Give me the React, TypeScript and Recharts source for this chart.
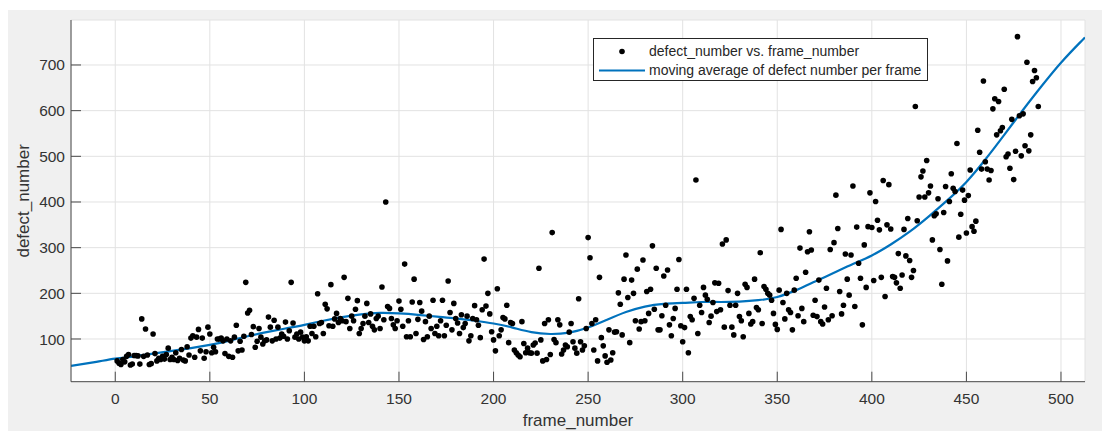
import {
  CartesianGrid,
  ComposedChart,
  Label,
  Legend,
  Line,
  Scatter,
  XAxis,
  YAxis,
} from "recharts";

// defects counted per frame, frames 1..488
const defectCounts = [
  // 1-50
  52, 47, 44, 55, 50, 62, 66, 43, 45, 64,
  64, 63, 45, 144, 62, 122, 65, 44, 46, 111,
  68, 52, 58, 55, 62, 56, 66, 80, 55, 60,
  55, 70, 53, 58, 77, 54, 52, 83, 65, 102,
  107, 60, 104, 121, 74, 102, 58, 72, 126, 111,
  // 51-100
  70, 82, 72, 100, 100, 102, 96, 68, 100, 62,
  96, 60, 104, 130, 74, 95, 76, 106, 224, 157,
  163, 110, 127, 82, 95, 123, 104, 89, 96, 98,
  148, 126, 96, 141, 100, 126, 102, 111, 106, 137,
  100, 118, 224, 135, 104, 111, 100, 115, 104, 96,
  // 101-150
  105, 96, 128, 112, 128, 105, 199, 134, 136, 112,
  176, 166, 129, 219, 128, 144, 156, 136, 145, 140,
  235, 138, 189, 123, 150, 140, 165, 184, 112, 123,
  134, 150, 178, 136, 155, 128, 120, 145, 150, 123,
  214, 142, 400, 171, 167, 145, 131, 123, 140, 183,
  // 151-200
  165, 128, 264, 105, 140, 105, 181, 231, 112, 143,
  180, 161, 99, 138, 105, 150, 123, 185, 112, 128,
  107, 140, 185, 107, 130, 227, 158, 120, 178, 145,
  135, 112, 153, 125, 134, 150, 96, 107, 145, 173,
  142, 130, 103, 164, 275, 172, 200, 155, 116, 98,
  // 201-250
  74, 210, 107, 120, 147, 144, 174, 92, 136, 134,
  76, 70, 65, 61, 138, 90, 70, 80, 70, 69,
  87, 91, 69, 255, 98, 52, 134, 55, 142, 66,
  333, 99, 92, 142, 131, 67, 76, 87, 83, 115,
  134, 94, 80, 69, 188, 94, 76, 85, 123, 322,
  // 251-300
  278, 134, 76, 142, 52, 235, 103, 85, 63, 49,
  120, 54, 70, 115, 116, 201, 176, 109, 231, 284,
  191, 92, 229, 200, 140, 253, 122, 138, 273, 140,
  204, 156, 209, 304, 165, 255, 120, 120, 151, 238,
  174, 251, 131, 107, 145, 167, 209, 274, 129, 94,
  // 301-350
  125, 209, 70, 149, 142, 189, 448, 112, 174, 158,
  213, 196, 187, 136, 150, 180, 223, 160, 222, 164,
  308, 126, 317, 206, 174, 126, 109, 174, 200, 149,
  140, 105, 220, 213, 156, 133, 138, 231, 169, 164,
  289, 134, 215, 209, 200, 196, 185, 156, 132, 121,
  // 351-400
  207, 340, 180, 144, 200, 164, 158, 120, 207, 233,
  151, 299, 167, 138, 246, 291, 335, 295, 152, 185,
  149, 229, 138, 133, 170, 211, 142, 296, 151, 311,
  415, 342, 204, 155, 174, 286, 231, 196, 284, 435,
  171, 345, 266, 233, 131, 306, 213, 346, 420, 344,
  // 401-450
  228, 401, 360, 339, 235, 447, 193, 350, 438, 341,
  237, 235, 223, 287, 211, 240, 340, 282, 364, 272,
  235, 250, 609, 359, 411, 455, 468, 411, 491, 420,
  435, 317, 370, 374, 407, 296, 220, 377, 434, 271,
  401, 462, 430, 423, 528, 323, 373, 426, 404, 332,
  // 451-488
  414, 470, 346, 336, 358, 557, 509, 472, 665, 488,
  472, 448, 469, 604, 626, 547, 620, 556, 563, 647,
  499, 505, 474, 581, 449, 511, 762, 589, 501, 593,
  523, 706, 512, 547, 664, 688, 672, 609,
];

// moving average curve, sampled off the blue line
const avgFrames = [
  -23.4, -10, 0, 10, 20, 30, 40, 50, 60, 70, 80, 90, 100, 110, 120, 130, 140,
  150, 160, 170, 180, 190, 200, 210, 220, 230, 240, 250, 260, 270, 280, 290,
  300, 310, 320, 330, 340, 350, 360, 370, 380, 390, 400, 410, 420, 430, 440,
  450, 460, 470, 480, 490, 500, 510, 512.7,
];
const avgValues = [
  41, 50, 57, 62, 68, 74, 80, 87, 96, 106, 115, 123, 131, 140, 148, 154, 157,
  156, 153, 149, 145, 140, 134, 125, 115, 111, 114, 125, 142, 159, 171, 177,
  179, 181, 181, 182, 185, 192, 207, 226, 245, 264, 283, 307, 335, 368, 404,
  444, 493, 547, 602, 655, 705, 749, 760,
];

const xTicks = [0, 50, 100, 150, 200, 250, 300, 350, 400, 450, 500];
const yTicks = [100, 200, 300, 400, 500, 600, 700];

const points = defectCounts.map((v, i) => ({ frame: i + 1, defects: v }));
const avgLine = avgFrames.map((f, i) => ({ frame: f, avg: avgValues[i] }));

const FONT = '"Liberation Sans", Arial, Helvetica, sans-serif';
const AXIS = "#4a4a4a";
const TEXT = "#333333";
const BLUE = "#0072BD";

const Dot = (props: any) => <circle cx={props.cx} cy={props.cy} r={2.8} fill="#000" />;

function MatlabLegend() {
  const row = { display: "flex", alignItems: "center", height: 19 } as const;
  return (
    <div
      style={{
        background: "#fff",
        border: "1px solid #262626",
        padding: "3px 6px 0 0",
        fontFamily: FONT,
        fontSize: 14,
        color: "#262626",
        whiteSpace: "nowrap",
        lineHeight: "19px",
      }}
    >
      <div style={row}>
        <svg width={55} height={19}>
          <circle cx={28} cy={9.5} r={2.8} fill="#000" />
        </svg>
        <span>defect_number vs. frame_number</span>
      </div>
      <div style={row}>
        <svg width={55} height={19}>
          <line x1={5} x2={51} y1={9.5} y2={9.5} stroke={BLUE} strokeWidth={2} />
        </svg>
        <span>moving average of defect number per frame</span>
      </div>
    </div>
  );
}

export default function App() {
  return (
    <div style={{ paddingTop: 2 }}>
      <div style={{ width: 1102, height: 421, background: "#f0f0f0" }}>
        <ComposedChart
          width={1102}
          height={421}
          margin={{ top: 10, right: 25, bottom: 0, left: 0 }}
        >
          <CartesianGrid fill="#fff" stroke="#e2e2e2" />
          <XAxis
            type="number"
            dataKey="frame"
            domain={[-23.4, 512.7]}
            allowDataOverflow
            ticks={xTicks}
            height={49.3}
            tickSize={-10}
            tickMargin={21.3}
            stroke={AXIS}
            tick={{ fill: TEXT, fontSize: 15.5, fontFamily: FONT }}
          >
            <Label
              value="frame_number"
              position="insideBottom"
              offset={5}
              style={{ fill: TEXT, fontSize: 17, fontFamily: FONT }}
            />
          </XAxis>
          <XAxis
            xAxisId="top"
            orientation="top"
            type="number"
            domain={[-23.4, 512.7]}
            allowDataOverflow
            ticks={xTicks}
            height={0}
            tickSize={-10}
            tick={false}
            stroke={AXIS}
          />
          <YAxis
            type="number"
            domain={[6.5, 798.5]}
            allowDataOverflow
            ticks={yTicks}
            width={63}
            tickSize={-10}
            tickMargin={16}
            stroke={AXIS}
            tick={{ fill: TEXT, fontSize: 15.5, fontFamily: FONT }}
          >
            <Label
              value="defect_number"
              angle={-90}
              position="insideLeft"
              offset={15}
              style={{ textAnchor: "middle", fill: TEXT, fontSize: 17, fontFamily: FONT }}
            />
          </YAxis>
          <YAxis
            yAxisId="right"
            orientation="right"
            type="number"
            domain={[6.5, 798.5]}
            allowDataOverflow
            ticks={yTicks}
            width={0}
            tickSize={-10}
            tick={false}
            stroke={AXIS}
          />
          <Scatter
            data={points}
            dataKey="defects"
            shape={Dot}
            isAnimationActive={false}
          />
          <Line
            data={avgLine}
            dataKey="avg"
            type="natural"
            stroke={BLUE}
            strokeWidth={2.2}
            dot={false}
            activeDot={false}
            isAnimationActive={false}
          />
          <Legend
            layout="vertical"
            align="center"
            verticalAlign="middle"
            content={<MatlabLegend />}
            wrapperStyle={{ left: 585, top: 28, width: "auto", height: "auto" }}
          />
        </ComposedChart>
      </div>
    </div>
  );
}
